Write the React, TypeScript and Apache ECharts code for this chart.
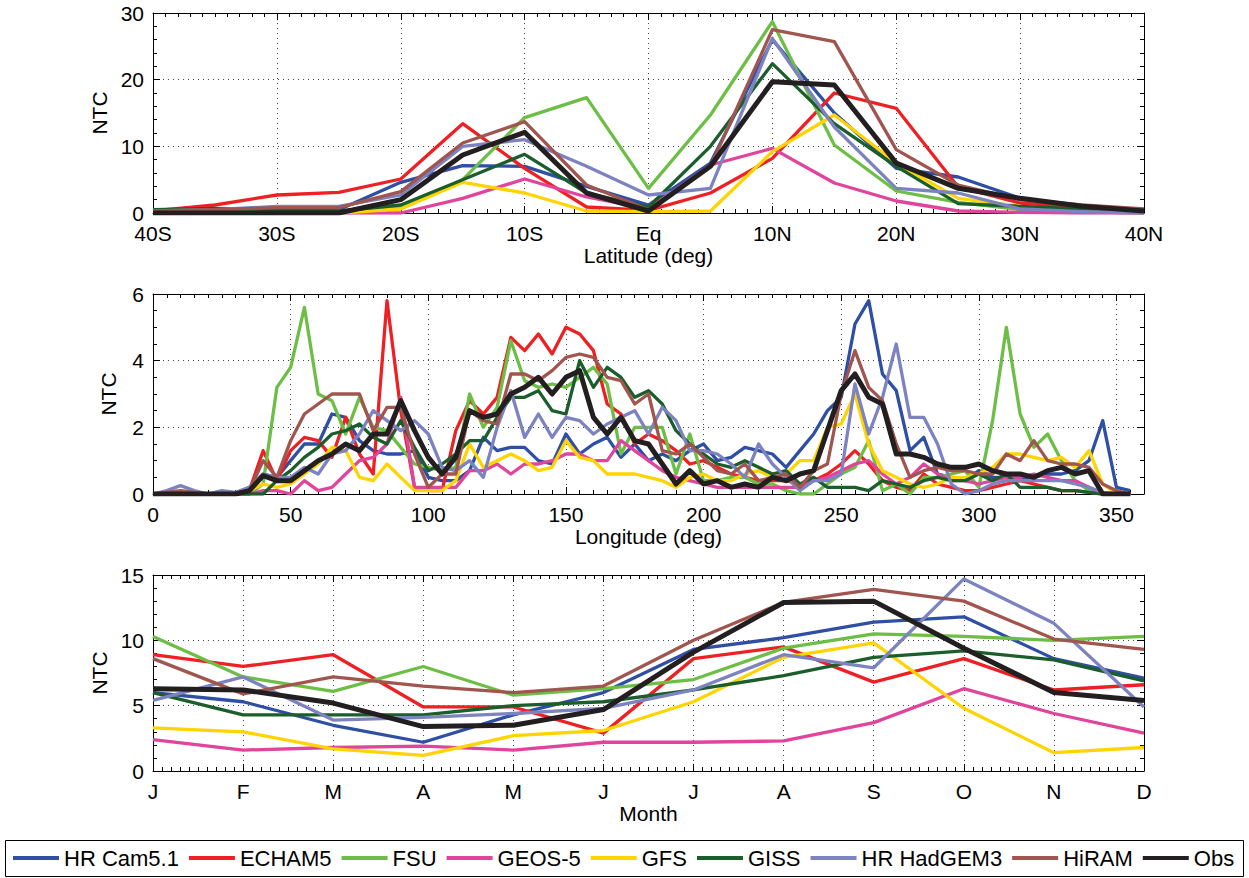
import React, { useEffect, useRef } from 'react';
import * as echarts from 'echarts';

const MODELS = ['HR Cam5.1', 'ECHAM5', 'FSU', 'GEOS-5', 'GFS', 'GISS', 'HR HadGEM3', 'HiRAM', 'Obs'];
const COLORS = ['#2E4FA3', '#EE2024', '#6CBE45', '#E0449B', '#FFD400', '#1B5E2B', '#7D82C0', '#A0554E', '#231F20'];

// Panel 1: latitude
const LATS = [-40, -35, -30, -25, -20, -15, -10, -5, 0, 5, 10, 15, 20, 25, 30, 35, 40];
const LAT_CAM = [0.3, 0.3, 0.5, 0.5, 4.6, 7.1, 7.0, 4.0, 1.2, 7.5, 26, 15, 6.7, 5.4, 2.2, 0.8, 0.2];
const LAT_ECHAM = [0.3, 1.2, 2.7, 3.1, 5.1, 13.4, 6.7, 0.9, 0.4, 3.0, 8.2, 18, 15.7, 3.9, 1.5, 0.8, 0.3];
const LAT_FSU = [0.3, 0.3, 0.2, 0.2, 0.8, 5.0, 14.3, 17.3, 3.7, 14.7, 28.7, 10.2, 3.3, 1.6, 0.5, 0.2, 0];
const LAT_GEOS = [0, 0, 0, 0, 0, 2.2, 5.1, 2.4, 0.6, 7.2, 9.7, 4.5, 1.8, 0.3, 0.1, 0, 0];
const LAT_GFS = [0, 0, 0, 0, 0.6, 4.6, 3.0, 0.3, 0.2, 0.3, 9.2, 14.7, 7.5, 2.2, 1.0, 0.3, 0.4];
const LAT_GISS = [0.5, 0.7, 0.5, 0.3, 1.2, 5.0, 8.8, 3.0, 0.9, 10, 22.4, 13.4, 7.0, 1.4, 1.0, 0.6, 0.2];
const LAT_HADGEM = [0.3, 0.5, 1.0, 1.0, 2.7, 10, 11, 7, 2.7, 3.7, 26.2, 12.9, 3.7, 3.0, 0.6, 0.2, 0];
const LAT_HIRAM = [0.3, 0.5, 0.8, 0.8, 3.2, 10.5, 13.7, 4.2, 0.5, 7, 27.5, 25.7, 9.5, 4.2, 2.0, 1.2, 0.6];
const LAT_OBS = [0, 0, 0, 0, 2.0, 8.7, 12.1, 3.0, 0.3, 7, 19.7, 19.2, 7.5, 3.7, 2.2, 1.0, 0.3];

// Panel 2: longitude 0..355 step 5
const LONS = [
  0, 5, 10, 15, 20, 25, 30, 35, 40, 45,
  50, 55, 60, 65, 70, 75, 80, 85, 90, 95,
  100, 105, 110, 115, 120, 125, 130, 135, 140, 145,
  150, 155, 160, 165, 170, 175, 180, 185, 190, 195,
  200, 205, 210, 215, 220, 225, 230, 235, 240, 245,
  250, 255, 260, 265, 270, 275, 280, 285, 290, 295,
  300, 305, 310, 315, 320, 325, 330, 335, 340, 345,
  350, 355,
];
const LON_CAM = [
  0, 0, 0, 0, 0, 0, 0, 0.2, 0.6, 0.5,
  1.0, 1.5, 1.5, 2.4, 2.3, 1.6, 1.3, 1.2, 1.2, 1.3,
  0.5, 0.4, 0.4, 0.7, 1.7, 1.3, 1.4, 1.4, 1.0, 0.9,
  1.8, 1.2, 1.5, 1.7, 1.1, 1.5, 1.0, 1.2, 1.0, 1.3,
  1.5, 1.0, 1.1, 1.4, 1.3, 1.2, 0.8, 1.3, 1.8, 2.5,
  2.9, 5.1, 5.8, 3.6, 3.1, 1.3, 1.7, 0.6, 0.5, 0.4,
  0.7, 0.5, 0.5, 0.5, 0.5, 0.6, 0.6, 0.7, 1.0, 2.2,
  0.2, 0.1,
];
const LON_ECHAM = [
  0, 0, 0, 0, 0, 0, 0, 0.1, 1.3, 0.4,
  1.3, 1.7, 1.6, 1.1, 2.3, 1.2, 0.6, 5.8, 2.5, 0.2,
  0.1, 0.1, 1.9, 2.8, 2.4, 2.9, 4.7, 4.3, 4.8, 4.2,
  5.0, 4.8, 4.3, 2.7, 2.4, 1.5, 1.8, 1.6, 1.3, 0.9,
  1.0, 0.8, 0.6, 0.5, 0.4, 0.4, 0.4, 0.3, 0.4, 0.6,
  0.9, 1.3, 0.9, 0.4, 0.2, 0.1, 0.6, 0.3, 0.2, 0.1,
  0.1, 0.2, 0.3, 0.4, 0.3, 0.2, 0.1, 0.1, 0.05, 0,
  0, 0,
];
const LON_FSU = [
  0, 0, 0, 0, 0, 0, 0, 0, 0.3, 3.2,
  3.8, 5.6, 3.0, 2.8, 1.8, 2.9, 2.0, 1.9, 1.4, 0.9,
  0.8, 0.7, 0.8, 3.0, 2.0, 2.6, 4.6, 3.4, 3.2, 3.3,
  3.2, 3.5, 3.8, 3.3, 1.2, 2.0, 2.0, 2.0, 0.6, 1.8,
  0.4, 0.4, 0.5, 0.5, 0.3, 0.3, 0.1, 0, 0, 0.3,
  0.6, 0.8, 1.6, 0.1, 0.3, 0, 0.5, 0.5, 0.6, 0.7,
  0.2, 2.2, 5.0, 2.4, 1.4, 1.8, 1.0, 0.4, 0.1, 0,
  0, 0,
];
const LON_GEOS = [
  0, 0, 0, 0, 0, 0, 0, 0, 0.1, 0.1,
  0, 0.4, 0.1, 0.2, 0.6, 1.0, 1.1, 1.5, 2.9, 0.2,
  0.2, 0.2, 0.2, 0.7, 0.7, 0.9, 0.6, 0.9, 0.9, 1.0,
  1.2, 1.2, 1.0, 1.0, 1.6, 1.3, 1.0, 0.7, 0.5, 0.4,
  0.3, 0.2, 0.2, 0.2, 0.2, 0.2, 0.2, 0.2, 0.4, 0.5,
  0.7, 0.9, 1.0, 0.6, 0.3, 0.5, 0.9, 0.6, 0.4, 0.4,
  0.3, 0.4, 0.5, 0.5, 0.6, 0.5, 0.4, 0.4, 0.2, 0,
  0, 0,
];
const LON_GFS = [
  0, 0, 0, 0, 0, 0, 0, 0.1, 0.3, 0.2,
  0.3, 0.6, 0.9, 1.4, 1.3, 0.5, 0.4, 0.9, 0.5, 0.1,
  0.1, 0.1, 0.4, 1.5, 0.8, 1.0, 1.2, 1.0, 0.7, 0.8,
  1.6, 1.1, 1.0, 0.6, 0.6, 0.6, 0.5, 0.4, 0.2, 0.5,
  0.6, 0.4, 0.4, 0.6, 0.7, 0.5, 0.6, 1.0, 1.0, 2.0,
  2.1, 3.0, 1.5, 0.7, 0.5, 0.3, 0.2, 0.3, 0.5, 0.5,
  0.6, 0.8, 1.2, 1.2, 1.1, 1.0, 1.1, 0.8, 1.3, 0.3,
  0, 0,
];
const LON_GISS = [
  0, 0, 0, 0, 0, 0, 0, 0, 0, 0.4,
  0.7, 1.1, 1.4, 1.8, 1.9, 2.1, 1.7, 1.5, 2.2, 1.4,
  0.7, 0.9, 1.2, 1.6, 1.6, 2.3, 2.9, 2.9, 3.1, 2.5,
  2.4, 4.0, 3.2, 3.8, 3.5, 2.9, 3.1, 2.7, 1.9, 1.5,
  1.2, 0.9, 0.8, 1.0, 0.8, 0.6, 0.7, 0.3, 0.5, 0.2,
  0.2, 0.2, 0.1, 0.4, 0.3, 0.2, 0.4, 0.5, 0.4, 0.4,
  0.6, 0.4, 0.6, 0.2, 0.2, 0.2, 0.1, 0.1, 0.05, 0,
  0, 0,
];
const LON_HADGEM = [
  0, 0.1, 0.25, 0.1, 0, 0.1, 0.05, 0.2, 0.6, 0.5,
  0.5, 0.8, 0.6, 1.2, 1.3, 1.8, 2.5, 2.2, 1.9, 2.2,
  1.8, 0.8, 0.7, 1.0, 0.5, 2.0, 3.1, 1.7, 2.4, 1.7,
  2.3, 2.2, 1.8, 2.1, 2.3, 2.5, 1.8, 2.6, 2.2, 1.3,
  1.3, 1.2, 0.9, 0.5, 1.5, 0.9, 0.5, 0.1, 0.4, 0.4,
  0.6, 3.3, 1.8, 2.9, 4.5, 2.3, 2.3, 1.5, 0.3, 0,
  0.1, 0.3, 0.4, 0.4, 0.4, 0.4, 0.4, 0.3, 0.2, 0.05,
  0, 0,
];
const LON_HIRAM = [
  0, 0.05, 0.1, 0.05, 0, 0, 0, 0.1, 1.0, 0.5,
  1.6, 2.4, 2.7, 3.0, 3.0, 3.0, 1.9, 2.6, 2.6, 1.2,
  0.2, 0.6, 0.6, 2.5, 2.2, 2.1, 3.6, 3.6, 3.4, 3.7,
  4.1, 4.2, 4.1, 3.5, 3.4, 2.7, 3.0, 1.3, 1.2, 1.5,
  1.1, 0.7, 0.6, 0.9, 0.4, 0.5, 0.6, 0.2, 0.7, 0.9,
  3.0, 4.3, 3.2, 2.8, 1.5, 0.5, 0.7, 0.8, 0.7, 0.7,
  0.6, 0.6, 1.2, 1.0, 1.6, 1.0, 0.9, 0.9, 0.8, 0.3,
  0.1, 0,
];
const LON_OBS = [
  0, 0, 0, 0, 0, 0, 0, 0.1, 0.55, 0.4,
  0.4, 0.7, 1.0, 1.2, 1.5, 1.3, 1.8, 1.8, 2.8, 1.9,
  1.1, 0.6, 1.1, 2.5, 2.3, 2.4, 3.0, 3.2, 3.5, 3.0,
  3.5, 3.7, 2.3, 1.8, 2.3, 1.6, 1.5, 0.9, 0.3, 0.7,
  0.3, 0.4, 0.2, 0.3, 0.2, 0.5, 0.4, 0.6, 0.7, 1.9,
  3.1, 3.6, 2.9, 2.7, 1.2, 1.2, 1.1, 0.9, 0.8, 0.8,
  0.9, 0.7, 0.6, 0.6, 0.5, 0.7, 0.8, 0.6, 0.7, 0,
  0, 0,
];

// Panel 3: month
const MONTHS = [1, 2, 3, 4, 5, 6, 7, 8, 9, 10, 11, 12];
const MONTH_LABELS = ['J', 'F', 'M', 'A', 'M', 'J', 'J', 'A', 'S', 'O', 'N', 'D'];
const MON_CAM = [6.0, 5.3, 3.5, 2.2, 4.3, 6.0, 9.3, 10.2, 11.4, 11.8, 8.6, 7.1];
const MON_ECHAM = [8.9, 8.0, 8.9, 4.9, 4.9, 2.9, 8.6, 9.5, 6.8, 8.6, 6.2, 6.6];
const MON_FSU = [10.3, 7.2, 6.1, 8.0, 5.8, 6.3, 7.0, 9.4, 10.5, 10.3, 10.0, 10.3];
const MON_GEOS = [2.4, 1.6, 1.8, 1.9, 1.6, 2.2, 2.2, 2.3, 3.7, 6.3, 4.4, 2.9];
const MON_GFS = [3.3, 3.0, 1.7, 1.2, 2.7, 3.1, 5.3, 8.7, 9.8, 4.8, 1.4, 1.8];
const MON_GISS = [6.0, 4.3, 4.3, 4.3, 5.0, 5.3, 6.2, 7.3, 8.7, 9.2, 8.5, 6.9];
const MON_HADGEM = [5.4, 7.2, 3.9, 4.1, 4.4, 4.8, 6.2, 8.9, 7.9, 14.7, 11.3, 4.9];
const MON_HIRAM = [8.6, 5.9, 7.2, 6.5, 6.0, 6.5, 10.0, 12.9, 13.9, 13.0, 10.1, 9.3];
const MON_OBS = [6.3, 6.2, 5.2, 3.4, 3.5, 4.7, 9.1, 12.9, 13.0, 9.4, 6.0, 5.4];

const LAT_SETS = [LAT_CAM, LAT_ECHAM, LAT_FSU, LAT_GEOS, LAT_GFS, LAT_GISS, LAT_HADGEM, LAT_HIRAM, LAT_OBS];
const LON_SETS = [LON_CAM, LON_ECHAM, LON_FSU, LON_GEOS, LON_GFS, LON_GISS, LON_HADGEM, LON_HIRAM, LON_OBS];
const MON_SETS = [MON_CAM, MON_ECHAM, MON_FSU, MON_GEOS, MON_GFS, MON_GISS, MON_HADGEM, MON_HIRAM, MON_OBS];

const FONT = '"Liberation Sans", Arial, Helvetica, sans-serif';
const AXIS_FS = 21;

function latFmt(v: number) {
  if (v < 0) return `${-v}S`;
  if (v === 0) return 'Eq';
  return `${v}N`;
}

const GRID_TOPS = [13, 294, 575];
const GRID_HEIGHTS = [200, 200, 196];

function makeXAxes(gi: number, min: number, max: number, interval: number, fmt: any, name: string, minorSplit: number) {
  const common: any = {
    type: 'value',
    gridIndex: gi,
    min,
    max,
    interval,
    axisLine: { show: true, onZero: false, lineStyle: { color: '#000', width: 1 } },
    axisTick: { show: true, inside: true, length: 7, lineStyle: { color: '#000', width: 1 } },
    minorTick: { show: true, splitNumber: minorSplit, length: 4, lineStyle: { color: '#000', width: 1 } },
  };
  return [
    {
      ...common,
      position: 'bottom',
      name,
      nameLocation: 'middle',
      nameGap: 30,
      nameTextStyle: { fontSize: AXIS_FS, color: '#000', fontFamily: FONT },
      axisLabel: { show: true, formatter: fmt, fontSize: AXIS_FS, lineHeight: 17, color: '#000', fontFamily: FONT, margin: 12 },
      splitLine: { show: true, lineStyle: { color: '#444', type: [1, 4], width: 1 } },
    },
    { ...common, position: 'top', axisLabel: { show: false }, splitLine: { show: false } },
  ];
}

function makeYAxes(gi: number, min: number, max: number, interval: number, minorSplit: number) {
  const common: any = {
    type: 'value',
    gridIndex: gi,
    min,
    max,
    interval,
    axisLine: { show: true, onZero: false, lineStyle: { color: '#000', width: 1 } },
    axisTick: { show: true, inside: true, length: 7, lineStyle: { color: '#000', width: 1 } },
    minorTick: { show: true, splitNumber: minorSplit, length: 4, lineStyle: { color: '#000', width: 1 } },
  };
  return [
    {
      ...common,
      position: 'left',
      name: 'NTC',
      nameLocation: 'middle',
      nameGap: 34,
      nameRotate: 90,
      nameTextStyle: { fontSize: AXIS_FS, color: '#000', fontFamily: FONT },
      axisLabel: { show: true, fontSize: AXIS_FS, lineHeight: 17, color: '#000', fontFamily: FONT, margin: 9 },
      splitLine: { show: true, lineStyle: { color: '#444', type: [1, 4], width: 1 } },
    },
    { ...common, position: 'right', axisLabel: { show: false }, splitLine: { show: false } },
  ];
}

function makeSeries(panel: number, xs: number[], sets: number[][]) {
  return sets.map((ys, i) => ({
    type: 'line',
    name: MODELS[i],
    xAxisIndex: panel * 2,
    yAxisIndex: panel * 2,
    data: xs.map((x, j) => [x, ys[j]]),
    showSymbol: false,
    symbol: 'none',
    color: COLORS[i],
    lineStyle: { color: COLORS[i], width: i === 8 ? 5 : 3.3, join: 'round' },
    z: i === 8 ? 5 : 3,
    silent: true,
  }));
}

export default function App() {
  const ref = useRef<HTMLDivElement>(null);
  useEffect(() => {
    document.body.style.margin = '0';
    if (!ref.current) return;
    const chart = echarts.init(ref.current, undefined, { renderer: 'svg' });
    const option: any = {
      animation: false,
      backgroundColor: '#fff',
      textStyle: { fontFamily: FONT },
      grid: GRID_TOPS.map((t, i) => ({ left: 153, top: t, width: 991, height: GRID_HEIGHTS[i] })),
      xAxis: [
        ...makeXAxes(0, -40, 40, 10, latFmt, 'Latitude (deg)', 10),
        ...makeXAxes(1, 0, 360, 50, undefined, 'Longitude (deg)', 10),
        ...makeXAxes(2, 1, 12, 1, (v: number) => MONTH_LABELS[v - 1] || '', 'Month', 10),
      ],
      yAxis: [
        ...makeYAxes(0, 0, 30, 10, 5),
        ...makeYAxes(1, 0, 6, 2, 4),
        ...makeYAxes(2, 0, 15, 5, 5),
      ],
      legend: {
        show: true,
        orient: 'horizontal',
        left: 13,
        top: 847,
        padding: 0,
        itemWidth: 46,
        itemHeight: 4,
        itemGap: 10,
        selectedMode: false,
        data: MODELS.map((n) => ({ name: n, icon: 'rect' })),
        textStyle: { fontSize: 22, color: '#000', fontFamily: FONT },
      },
      graphic: [
        {
          type: 'rect',
          shape: { x: 5.5, y: 840.5, width: 1238, height: 36 },
          style: { fill: 'none', stroke: '#000', lineWidth: 1 },
          silent: true,
        },
      ],
      series: [
        ...makeSeries(0, LATS, LAT_SETS),
        ...makeSeries(1, LONS, LON_SETS),
        ...makeSeries(2, MONTHS, MON_SETS),
      ],
    };
    chart.setOption(option);
    return () => chart.dispose();
  }, []);
  return <div ref={ref} style={{ width: 1249, height: 878 }} />;
}
